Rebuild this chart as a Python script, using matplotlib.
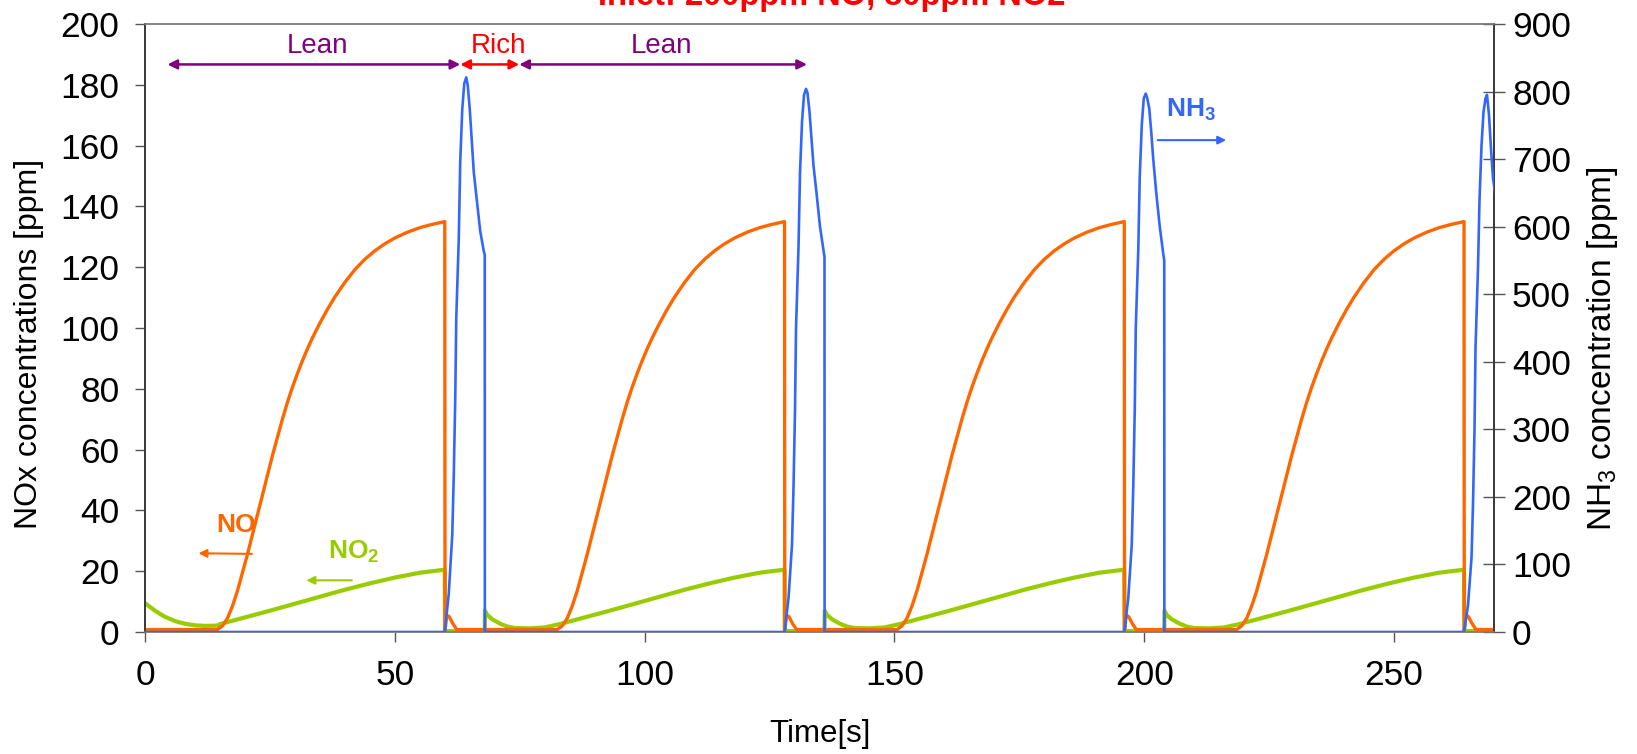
import numpy as np
import matplotlib
matplotlib.use("Agg")
import matplotlib.pyplot as plt

# ---- cycle timing [s] ----
lean_starts = [0, 68, 136, 204]
lean_duration = 60
t_end = 270

# ---- NO during lean phase (time since lean start, ppm) ----
no_lean_tau = [0, 14.5, 15.5, 16.5, 17.5, 18.5, 19.5, 20.5, 21.5, 22.5, 23.5, 24.5, 25.5,
               26.5, 27.5, 28.5, 29.5, 30.5, 31.5, 32.5, 33.5, 35, 36.5, 38, 40, 42, 44,
               46, 48, 50, 52.5, 55, 57.5, 60]
no_lean_val = [0.8, 0.8, 2, 4.5, 8.5, 13.5, 19.5, 25.5, 32, 38.5, 45, 51.5, 58,
               64, 70, 75.5, 80.5, 85, 89.2, 93.1, 96.7, 101.6, 106.1, 110.2, 115, 119.2,
               122.6, 125.4, 127.7, 129.6, 131.5, 133, 134.1, 135]
# ---- NO during rich phase (time since rich start, ppm) ----
no_rich_tau = [0.05, 0.4, 0.9, 1.6, 2.4, 8.0]
no_rich_val = [0.5, 5.6, 5.0, 2.8, 0.8, 0.8]

# ---- NO2: first lean phase start, following lean phases, rich phase ----
no2_first_tau = [0, 2, 4, 6, 8, 10, 12, 14.5]
no2_first_val = [9.5, 7.0, 5.0, 3.6, 2.7, 2.2, 2.0, 2.1]
no2_lean_tau = [0, 0.05, 0.5, 1.5, 3, 4.5, 6, 9, 12, 15, 20, 25, 30, 35, 40, 45, 50, 55, 60]
no2_lean_val = [0.3, 7.0, 5.6, 4.2, 2.8, 1.8, 1.3, 1.2, 1.5, 2.6, 4.8, 7.0, 9.3, 11.6, 13.9,
                16.0, 17.9, 19.5, 20.5]
no2_rich_tau = [0.05, 8.0]
no2_rich_val = [0.3, 0.3]

# ---- NH3 during each rich phase (time since rich start, ppm) ----
nh3_tau = [0, 0.8, 1.5, 1.8, 2.1, 2.3, 2.8, 3.1, 3.5, 3.9, 4.3, 4.6, 5.0, 5.4, 5.8, 6.4,
           7.1, 7.8, 8.0, 8.02]
nh3_cycle1 = [0, 57, 144, 232, 348, 465, 582, 698, 774, 812, 821, 809, 774, 728, 681, 640,
              593, 564, 558, 0]
nh3_cycle2 = [0, 50, 130, 215, 330, 450, 570, 680, 755, 795, 804, 798, 770, 730, 690, 650,
              600, 565, 555, 0]
nh3_cycle3 = [0, 50, 130, 215, 330, 450, 565, 675, 750, 790, 797, 790, 775, 740, 700, 650,
              600, 560, 550, 0]
nh3_cycle4 = [0, 40, 110, 190, 300, 420, 540, 640, 720, 770, 790, 795, 765, 715, 672, 640,
              600, 560, 550, 0]
nh3_cycles = [nh3_cycle1, nh3_cycle2, nh3_cycle3, nh3_cycle4]

# ---- axis ticks ----
x_ticks = [0, 50, 100, 150, 200, 250]
left_ticks = list(range(0, 201, 20))
right_ticks = list(range(0, 901, 100))

C_NO = "#FF6600"
C_NO2 = "#99CC00"
C_NH3 = "#3366FF"
C_LEAN = "#800080"
C_RICH = "#FF0000"
FONT = "Liberation Sans"

plt.rcParams["mathtext.fontset"] = "custom"
plt.rcParams["mathtext.rm"] = "Liberation Sans"
plt.rcParams["mathtext.it"] = "Liberation Sans:italic"
plt.rcParams["mathtext.bf"] = "Liberation Sans:bold"


def build_series(lean_tau, lean_val, rich_tau, rich_val, first=None):
    t, v = [], []
    for k, t0 in enumerate(lean_starts):
        lt, lv = list(lean_tau), list(lean_val)
        if k == 0 and first is not None:
            ft, fv = first
            keep = [i for i, x in enumerate(lt) if x > ft[-1]]
            lt = list(ft) + [lt[i] for i in keep]
            lv = list(fv) + [lv[i] for i in keep]
        t += [t0 + x for x in lt]
        v += lv
        r0 = t0 + lean_duration
        t += [r0 + x for x in rich_tau]
        v += list(rich_val)
    return np.array(t), np.array(v)


t_no, v_no = build_series(no_lean_tau, no_lean_val, no_rich_tau, no_rich_val)
t_no2, v_no2 = build_series(no2_lean_tau, no2_lean_val, no2_rich_tau, no2_rich_val,
                            first=(no2_first_tau, no2_first_val))

t_nh3, v_nh3 = [0.0], [0.0]
for t0, prof in zip(lean_starts, nh3_cycles):
    r0 = t0 + lean_duration
    t_nh3 += [r0 + x for x in nh3_tau]
    v_nh3 += prof
t_nh3.append(t_end + 5)
v_nh3.append(0)

fig = plt.figure(figsize=(16.37, 7.54), dpi=100)
ax = fig.add_axes([145 / 1637, 122 / 754, (1494 - 145) / 1637, (632 - 24) / 754])
ax2 = ax.twinx()

ax.plot(t_no2, v_no2, color=C_NO2, lw=3.0, zorder=2)
ax.plot(t_no, v_no, color=C_NO, lw=2.4, zorder=3)
ax2.plot(t_nh3, v_nh3, color=C_NH3, lw=1.9, zorder=4)

ax.set_xlim(0, t_end)
ax.set_ylim(0, 200)
ax2.set_ylim(0, 900)
ax.set_xticks(x_ticks)
ax.set_yticks(left_ticks)
ax2.set_yticks(right_ticks)

for a in (ax, ax2):
    for s in a.spines.values():
        s.set_linewidth(1.1)
    a.spines["top"].set_color("#808080")
    a.spines["bottom"].set_color("#808080")
    a.spines["left"].set_color("#333333")
    a.spines["right"].set_color("#333333")

ax.tick_params(axis="x", direction="out", length=7.5, width=1.0, color="#555555",
               pad=12, labelsize=25.5, labelfontfamily=FONT)
ax.tick_params(axis="y", direction="out", length=7.5, width=1.0, color="#555555",
               pad=11, labelsize=25.5, labelfontfamily=FONT)
ax2.tick_params(axis="y", direction="inout", length=16, width=1.0, color="#555555",
                pad=5, labelsize=25.5, labelfontfamily=FONT)

# axis titles
fig.text(29 / 1637, 1 - 344 / 754, "NOx concentrations [ppm]", rotation=90, ha="center",
         va="center", fontsize=23, family=FONT)
fig.text(1603 / 1637, 1 - 349 / 754, "NH$_3$ concentration [ppm]", rotation=90,
         ha="center", va="center", fontsize=24, family=FONT)
fig.text(820 / 1637, 1 - 734 / 754, "Time[s]", ha="center", va="center", fontsize=22.5,
         family=FONT)

# title (runs off the top edge of the figure)
fig.text(832 / 1637, 1 - 5.5 / 754, "Inlet: 200ppm NO, 30ppm NO2", ha="center",
         va="baseline", color="red", fontweight="bold", fontsize=23.5, family=FONT)

# lean / rich phase arrows
arrow_y = 186.7
phases = [(4.5, 63.1, C_LEAN, "Lean", 34.6),
          (63.1, 74.9, C_RICH, "Rich", 70.7),
          (74.9, 132.5, C_LEAN, "Lean", 103.4)]
for x0, x1, col, label, xt in phases:
    ax.annotate("", xy=(x1, arrow_y), xytext=(x0, arrow_y),
                arrowprops=dict(arrowstyle="<|-|>", color=col, lw=1.8,
                                mutation_scale=14, shrinkA=0, shrinkB=0))
    ax.text(xt, 192.7, label, color=col, ha="center", va="center", fontsize=20,
            family=FONT)

# series labels with arrows pointing at their axes
ax.text(18.3, 35.3, "NO", color=C_NO, fontweight="bold", ha="center", va="center",
        fontsize=19, family=FONT)
ax.annotate("", xy=(10.7, 25.9), xytext=(21.4, 25.7),
            arrowprops=dict(arrowstyle="-|>", color=C_NO, lw=1.5, mutation_scale=12,
                            shrinkA=0, shrinkB=0))
ax.text(41.7, 26.4, "NO$_\\mathbf{2}$", color=C_NO2, fontweight="bold", ha="center",
        va="center", fontsize=19, family=FONT)
ax.annotate("", xy=(32.3, 17.0), xytext=(41.4, 17.0),
            arrowprops=dict(arrowstyle="-|>", color=C_NO2, lw=1.5, mutation_scale=12,
                            shrinkA=0, shrinkB=0))
ax.text(209.4, 171.7, "NH$_\\mathbf{3}$", color=C_NH3, fontweight="bold", ha="center",
        va="center", fontsize=19, family=FONT)
ax.annotate("", xy=(216.4, 161.8), xytext=(202.7, 161.8),
            arrowprops=dict(arrowstyle="-|>", color=C_NH3, lw=1.5, mutation_scale=12,
                            shrinkA=0, shrinkB=0))

fig.savefig("out.png", dpi=100)
